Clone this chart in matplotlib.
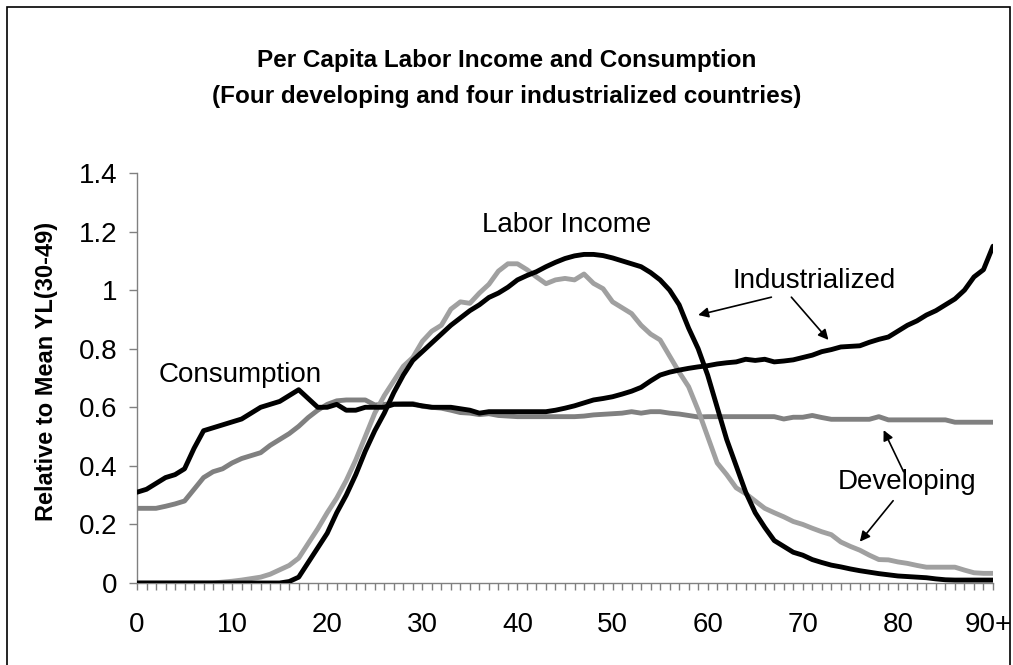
import matplotlib
matplotlib.use("Agg")
import matplotlib.pyplot as plt
import matplotlib.transforms as mtransforms
from matplotlib import font_manager
from matplotlib.patches import Rectangle

plt.rcParams['font.family'] = ['Liberation Sans', 'DejaVu Sans']

# ages 0..90 (90 = "90+")
edades = list(range(0, 91))

cons_industrial = [
    0.31, 0.32, 0.34, 0.36, 0.37, 0.39, 0.46, 0.52, 0.53, 0.54,
    0.55, 0.56, 0.58, 0.60, 0.61, 0.62, 0.64, 0.66, 0.63, 0.60,
    0.60, 0.61, 0.59, 0.59, 0.60, 0.60, 0.60, 0.61, 0.61, 0.61,
    0.605, 0.60, 0.60, 0.60, 0.595, 0.59, 0.58, 0.585, 0.585, 0.585,
    0.585, 0.585, 0.585, 0.585, 0.59, 0.597, 0.605, 0.615, 0.625, 0.63,
    0.636, 0.645, 0.655, 0.668, 0.69, 0.71, 0.72, 0.727, 0.733, 0.738,
    0.742, 0.748, 0.752, 0.755, 0.764, 0.76, 0.764, 0.755, 0.758, 0.762,
    0.77, 0.778, 0.79, 0.797, 0.806, 0.808, 0.81, 0.822, 0.832, 0.84,
    0.86, 0.88, 0.895, 0.915, 0.93, 0.95, 0.97, 1.00, 1.045, 1.07,
    1.15,
]

cons_desarrollo = [
    0.255, 0.255, 0.255, 0.262, 0.27, 0.28, 0.32, 0.36, 0.38, 0.39,
    0.41, 0.425, 0.435, 0.445, 0.47, 0.49, 0.51, 0.535, 0.565, 0.59,
    0.61, 0.622, 0.625, 0.625, 0.625, 0.608, 0.61, 0.612, 0.613, 0.613,
    0.603, 0.60, 0.597, 0.59, 0.582, 0.58, 0.575, 0.578, 0.572, 0.57,
    0.568, 0.568, 0.568, 0.568, 0.568, 0.568, 0.568, 0.57, 0.574, 0.576,
    0.578, 0.58, 0.585, 0.58, 0.585, 0.585, 0.58, 0.577, 0.572, 0.567,
    0.568, 0.568, 0.568, 0.568, 0.568, 0.568, 0.568, 0.568, 0.56, 0.566,
    0.566, 0.572, 0.565, 0.559, 0.559, 0.559, 0.559, 0.559, 0.568, 0.557,
    0.557, 0.557, 0.557, 0.557, 0.557, 0.557, 0.549, 0.549, 0.549, 0.549,
    0.549,
]

ingreso_industrial = [
    0, 0, 0, 0, 0, 0, 0, 0, 0, 0,
    0, 0, 0, 0, 0, 0, 0.005, 0.02, 0.07, 0.12,
    0.17, 0.24, 0.30, 0.37, 0.45, 0.52, 0.58, 0.65, 0.71, 0.76,
    0.79, 0.82, 0.85, 0.88, 0.905, 0.93, 0.95, 0.975, 0.99, 1.01,
    1.035, 1.05, 1.063, 1.08, 1.095, 1.108, 1.117, 1.122, 1.122, 1.118,
    1.11, 1.10, 1.09, 1.08, 1.06, 1.035, 1.00, 0.95, 0.87, 0.80,
    0.71, 0.60, 0.49, 0.40, 0.31, 0.24, 0.19, 0.145, 0.125, 0.105,
    0.095, 0.08, 0.07, 0.061, 0.055, 0.048, 0.042, 0.037, 0.032, 0.028,
    0.024, 0.022, 0.02, 0.018, 0.014, 0.011, 0.01, 0.01, 0.01, 0.01,
    0.01,
]

ingreso_desarrollo = [
    0, 0, 0, 0, 0, 0, 0, 0, 0, 0.003,
    0.006, 0.01, 0.015, 0.02, 0.03, 0.045, 0.06, 0.085, 0.135, 0.185,
    0.24, 0.29, 0.35, 0.42, 0.50, 0.58, 0.64, 0.69, 0.74, 0.77,
    0.825, 0.86, 0.88, 0.935, 0.96, 0.955, 0.99, 1.02, 1.065, 1.09,
    1.09, 1.07, 1.045, 1.022, 1.035, 1.04, 1.035, 1.055, 1.023, 1.005,
    0.96, 0.94, 0.92, 0.88, 0.85, 0.83, 0.775, 0.72, 0.67, 0.59,
    0.50, 0.41, 0.37, 0.325, 0.305, 0.28, 0.255, 0.24, 0.226, 0.21,
    0.20, 0.187, 0.175, 0.165, 0.14, 0.125, 0.112, 0.095, 0.08, 0.079,
    0.072, 0.067, 0.06, 0.054, 0.054, 0.054, 0.054, 0.044, 0.035, 0.033,
    0.033,
]

xtick_vals = [0, 10, 20, 30, 40, 50, 60, 70, 80, 90]
xtick_labels = ['0', '10', '20', '30', '40', '50', '60', '70', '80', '90+']
ytick_vals = [0, 0.2, 0.4, 0.6, 0.8, 1.0, 1.2, 1.4]
ytick_labels = ['0', '0.2', '0.4', '0.6', '0.8', '1', '1.2', '1.4']

# titulo: usar fuente estrecha si existe
nombres = {f.name for f in font_manager.fontManager.ttflist}
if 'Liberation Sans Narrow' in nombres:
    fuente_titulo = ['Liberation Sans Narrow', 'Liberation Sans']
    tam_titulo = 21
else:
    fuente_titulo = ['Liberation Sans', 'DejaVu Sans']
    tam_titulo = 17.5

fig = plt.figure(figsize=(10.13, 6.65), dpi=100)
ax = fig.add_axes([137 / 1013, 82 / 665, 856 / 1013, 410 / 665])

gris_oscuro = '#808080'
gris_claro = '#a0a0a0'
ax.plot(edades, cons_desarrollo, color=gris_oscuro, lw=3.5, solid_capstyle='round', zorder=2)
ax.plot(edades, ingreso_desarrollo, color=gris_claro, lw=3.5, solid_capstyle='round', zorder=2)
ax.plot(edades, cons_industrial, color='black', lw=3.5, solid_capstyle='round', zorder=3)
ax.plot(edades, ingreso_industrial, color='black', lw=3.5, solid_capstyle='round', zorder=3)

ax.set_xlim(0, 90)
ax.set_ylim(0, 1.4)
ax.spines['top'].set_visible(False)
ax.spines['right'].set_visible(False)
for s in ('left', 'bottom'):
    ax.spines[s].set_color('#808080')
    ax.spines[s].set_linewidth(1.0)

ax.set_xticks(xtick_vals)
ax.set_xticklabels(xtick_labels)
ax.set_xticks(edades, minor=True)
ax.tick_params(axis='x', which='both', direction='out', length=5, width=1, color='#808080',
               labelsize=20, pad=16)
ax.set_yticks(ytick_vals)
ax.set_yticklabels(ytick_labels)
ax.tick_params(axis='y', direction='out', length=6, width=1, color='#808080',
               labelsize=20, pad=8)

# el "90+" queda pegado al marco, moverlo un poco a la izquierda
ult = ax.get_xticklabels()[-1]
ult.set_transform(ult.get_transform() + mtransforms.ScaledTranslation(-5 / 100, 0, fig.dpi_scale_trans))

ax.set_ylabel('Relative to Mean YL(30-49)', fontsize=17, fontweight='bold')
ax.yaxis.set_label_coords(-0.092, 0.515)

# textos
ax.text(10.8, 0.71, 'Consumption', fontsize=20, ha='center', va='center')
ax.text(45.2, 1.222, 'Labor Income', fontsize=20, ha='center', va='center')
ax.text(71.2, 1.031, 'Industrialized', fontsize=20, ha='center', va='center')
ax.text(81.0, 0.345, 'Developing', fontsize=20, ha='center', va='center')

flecha = dict(arrowstyle='-|>', color='black', lw=1.2, mutation_scale=15, shrinkA=0, shrinkB=0)
ax.annotate('', xy=(59.0, 0.915), xytext=(66.7, 0.976), arrowprops=flecha)
ax.annotate('', xy=(72.7, 0.83), xytext=(68.8, 0.976), arrowprops=flecha)
ax.annotate('', xy=(78.5, 0.522), xytext=(80.6, 0.38), arrowprops=flecha)
ax.annotate('', xy=(76.0, 0.141), xytext=(79.5, 0.281), arrowprops=flecha)

fig.text(0.5, 1 - 60 / 665, 'Per Capita Labor Income and Consumption', ha='center', va='center',
         fontsize=tam_titulo, fontweight='bold', family=fuente_titulo)
fig.text(0.5, 1 - 96 / 665, '(Four developing and four industrialized countries)', ha='center',
         va='center', fontsize=tam_titulo, fontweight='bold', family=fuente_titulo)

# marco exterior
fig.patches.append(Rectangle((7 / 1013, -0.02), 1003 / 1013, 1.02 - 7 / 665,
                             transform=fig.transFigure, fill=False, edgecolor='black', lw=1.2))

fig.savefig('out.png', dpi=100)
